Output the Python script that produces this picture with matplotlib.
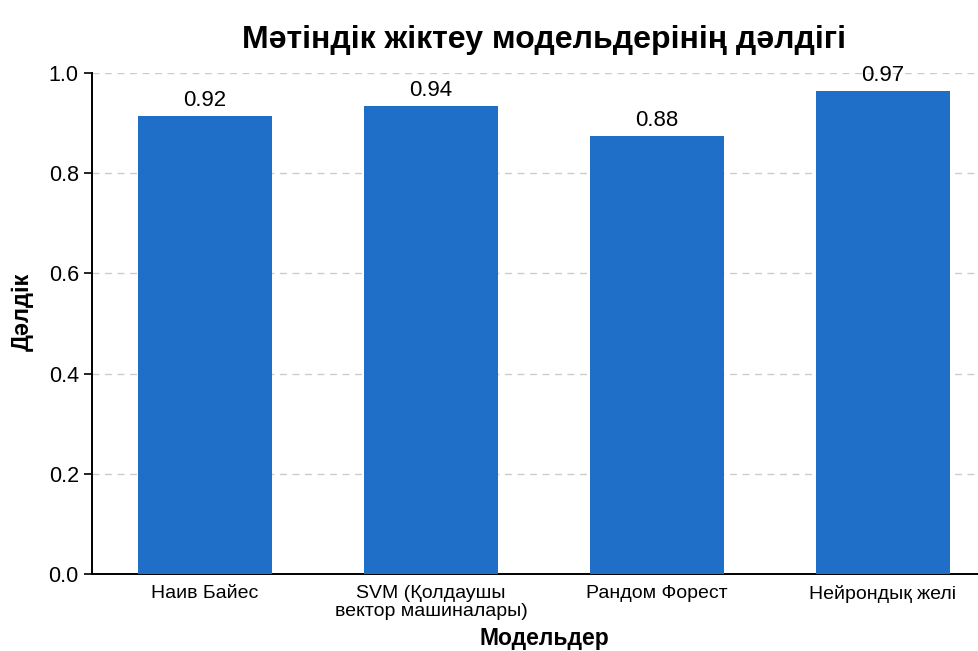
import matplotlib.pyplot as plt

# деректер
models = ['Наив Байес', 'SVM (Қолдаушы\nвектор машиналары)', 'Рандом Форест', 'Нейрондық желі']
accuracy = [0.915, 0.935, 0.875, 0.965]
value_labels = ['0.92', '0.94', '0.88', '0.97']
y_ticks = [0.0, 0.2, 0.4, 0.6, 0.8, 1.0]

plt.rcParams['font.family'] = ['Liberation Sans', 'DejaVu Sans']

fig = plt.figure(figsize=(9.79, 6.51), dpi=100)
ax = fig.add_axes([92 / 979, 77 / 651, 904 / 979, 501 / 651])

x = range(len(models))
bars = ax.bar(x, accuracy, width=0.59, color='#1f6fc8', zorder=3)

for bar, lab in zip(bars, value_labels):
    ax.text(bar.get_x() + bar.get_width() / 2, bar.get_height() + 0.01, lab,
            ha='center', va='bottom', fontsize=16, zorder=4)

ax.set_xlim(-0.5, 3.5)
ax.set_ylim(0, 1.0)
ax.set_yticks(y_ticks)
ax.set_yticklabels([f'{t:.1f}' for t in y_ticks], fontsize=15.5)
ax.set_xticks(list(x))
ax.set_xticklabels(models, fontsize=14, linespacing=1.05)
ax.tick_params(axis='x', length=0, pad=8)
ax.tick_params(axis='y', length=6, width=1.2)

ax.yaxis.grid(True, linestyle=(0, (5, 4)), color='#cccccc', linewidth=1, zorder=0)
ax.spines['top'].set_visible(False)
ax.spines['right'].set_visible(False)
ax.spines['left'].set_linewidth(1.4)
ax.spines['bottom'].set_linewidth(1.4)

ax.set_title('Мәтіндік жіктеу модельдерінің дәлдігі', fontsize=23, fontweight='bold', pad=18)
ax.set_xlabel('Модельдер', fontsize=16.5, fontweight='bold', labelpad=5)
ax.set_ylabel('Дәлдік', fontsize=17, fontweight='bold')
ax.yaxis.set_label_coords(-0.064, 0.523)

plt.savefig('out.png', dpi=100)
